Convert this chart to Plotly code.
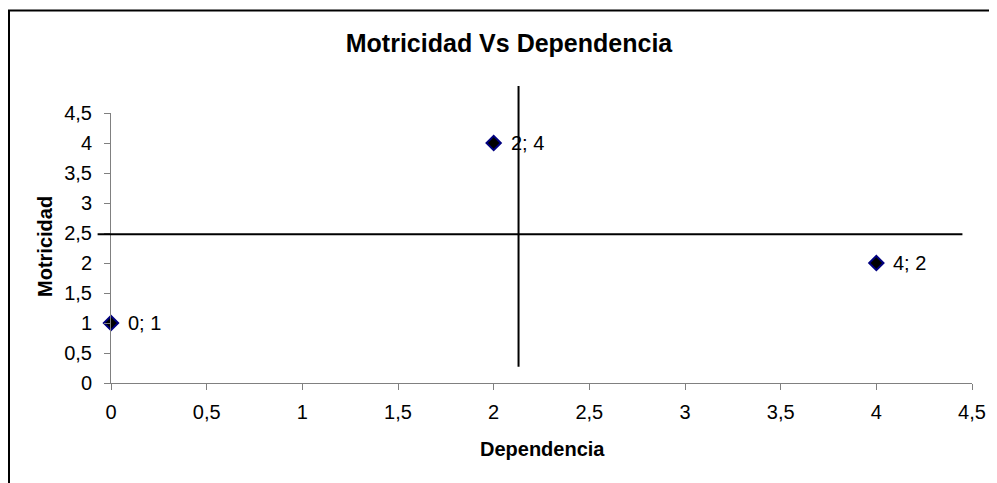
import plotly.graph_objects as go

# ---- data ----
dependencia = [0, 2, 4]          # x values
motricidad = [1, 4, 2]           # y values
tick_vals = [0, 0.5, 1, 1.5, 2, 2.5, 3, 3.5, 4, 4.5]

# reference lines (data units)
v_line_x = 2.13
v_line_y = [0.27, 4.95]
h_line_y = 2.48
h_line_x = [-0.07, 4.45]

X_RANGE = [0, 4.5]
Y_RANGE = [0, 4.5]

FONT = "Liberation Sans, Arial, sans-serif"
labels = [f"{x}; {y}" for x, y in zip(dependencia, motricidad)]

# figure geometry (page has an 8px body margin)
W, H = 989, 475
ML, MR, MT, MB = 103, 25, 105, 100
PW, PH = W - ML - MR, H - MT - MB

fig = go.Figure()
fig.add_trace(go.Scatter(
    x=dependencia, y=motricidad,
    mode="markers",
    marker=dict(symbol="diamond", size=11, color="#000000",
                line=dict(color="#000080", width=2)),
    cliponaxis=False,
    showlegend=False,
    hoverinfo="skip",
))

def xp(v):
    return (v - X_RANGE[0]) / (X_RANGE[1] - X_RANGE[0])

def yp(v):
    return (v - Y_RANGE[0]) / (Y_RANGE[1] - Y_RANGE[0])

shapes = [
    # vertical reference line
    dict(type="line", xref="x", yref="paper", x0=v_line_x, x1=v_line_x,
         y0=yp(v_line_y[0]), y1=yp(v_line_y[1]),
         line=dict(color="black", width=2)),
    # horizontal reference line
    dict(type="line", xref="paper", yref="y", x0=xp(h_line_x[0]), x1=xp(h_line_x[1]),
         y0=h_line_y, y1=h_line_y,
         line=dict(color="black", width=2)),
    # chart area border (only top and left visible)
    dict(type="rect", xref="paper", yref="paper",
         x0=(1 - ML) / PW, x1=1.3, y0=-0.6, y1=(PH + MT - 2.5) / PH,
         line=dict(color="black", width=2), layer="below"),
]

axis_common = dict(
    tickvals=tick_vals, ticks="outside", ticklen=6,
    tickcolor="#808080", tickwidth=1, showline=True, linecolor="#808080",
    linewidth=1, showgrid=False, zeroline=False,
    tickfont=dict(family=FONT, size=20, color="black"),
)

annotations = [
    dict(x=x, y=y, xref="x", yref="y", text=t, showarrow=False,
         xanchor="left", yanchor="middle", xshift=15,
         font=dict(family=FONT, size=20, color="black"))
    for x, y, t in zip(dependencia, motricidad, labels)
]
annotations += [
    dict(text="<b>Dependencia</b>", xref="paper", yref="paper",
         x=(542 - 8 - ML) / PW, y=(PH - (449 - 8 - MT)) / PH,
         xanchor="center", yanchor="middle",
         showarrow=False, font=dict(family=FONT, size=20, color="black")),
    dict(text="<b>Motricidad</b>", xref="paper", yref="paper",
         x=(45 - 8 - ML) / PW, y=(PH - (247 - 8 - MT)) / PH,
         xanchor="center", yanchor="middle",
         textangle=-90, showarrow=False,
         font=dict(family=FONT, size=20, color="black")),
]

fig.update_layout(
    width=W, height=H, autosize=False,
    margin=dict(l=ML, r=MR, t=MT, b=MB),
    paper_bgcolor="white", plot_bgcolor="white",
    separators=",.",
    shapes=shapes,
    title=dict(text="<b>Motricidad Vs Dependencia</b>", xref="container",
               x=(509 - 8) / W, xanchor="center", y=1 - (43 - 8) / H, yanchor="middle",
               font=dict(family=FONT, size=25, color="black")),
    xaxis={**axis_common, "range": X_RANGE, "ticklabelstandoff": 5},
    yaxis={**axis_common, "range": Y_RANGE, "ticklabelstandoff": 8},
    annotations=annotations,
)

fig.write_html("out.html")
